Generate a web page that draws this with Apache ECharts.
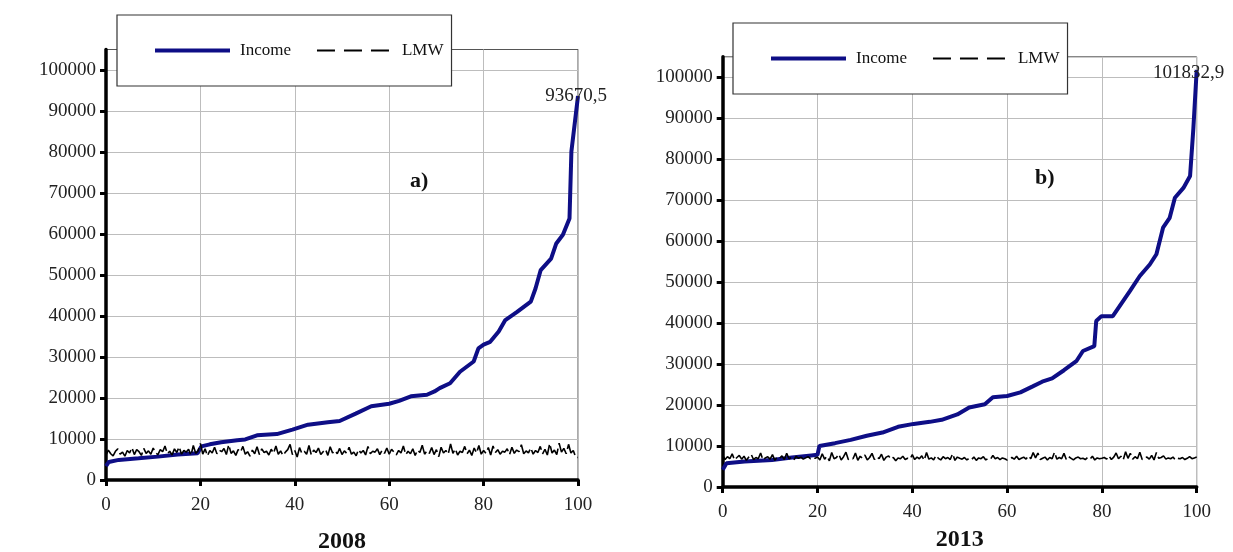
<!DOCTYPE html>
<html>
<head>
<meta charset="utf-8">
<script src="https://cdn.jsdelivr.net/npm/echarts@6/dist/echarts.min.js"></script>
<style>
  html, body { margin: 0; padding: 0; background: #fff; }
  #chart { width: 1233px; height: 552px; }
</style>
</head>
<body>
<div id="chart"></div>
<script>
// LMW is sampled every half percentile
const pctl = Array.from({ length: 201 }, (_, i) => i / 2);
const yTicks = [0, 10000, 20000, 30000, 40000, 50000, 60000, 70000, 80000, 90000, 100000];

// 2008 income (breakpoints)
const inc08X = [0, 0.6, 2.7, 6.9, 11, 15.2, 19.4, 20.2, 22, 24.4, 27.8, 29.5, 32, 36.2, 39.5, 42.8, 47, 49.5, 52.9, 56.2, 60, 62.1, 64.6, 68, 69.6, 70.7, 72.9, 75, 77.9, 78.9, 80, 81.4, 83.2, 84.6, 87.1, 90, 91, 92.1, 94.3, 95.4, 96.8, 98.2, 98.6, 100];
const inc08Y = [3400, 4400, 4900, 5300, 5700, 6200, 6500, 8200, 8700, 9200, 9700, 9900, 10900, 11200, 12300, 13500, 14100, 14400, 16200, 18000, 18600, 19300, 20400, 20800, 21600, 22400, 23600, 26400, 28900, 32100, 33000, 33700, 36200, 39000, 41000, 43500, 46700, 51200, 54000, 57700, 59800, 63800, 80100, 93670.5];

// 2013 income
const inc13X = [0, 0.8, 4.6, 10.4, 14.6, 18.7, 20, 20.4, 23.7, 27, 30.4, 33.7, 37, 40.3, 43.7, 46.2, 49.5, 52, 55.3, 57, 60, 62.8, 65.3, 67.4, 69.5, 72, 74.6, 76, 78.4, 78.8, 79.9, 82.3, 85.9, 88, 90.1, 91.5, 92.9, 94.3, 95.4, 97.2, 98.6, 99.3, 100];
const inc13Y = [4200, 5800, 6200, 6600, 7200, 7700, 7850, 10000, 10700, 11500, 12500, 13300, 14700, 15400, 15900, 16400, 17700, 19400, 20200, 21900, 22200, 23100, 24500, 25700, 26500, 28500, 30700, 33200, 34400, 40500, 41700, 41700, 47800, 51500, 54300, 56800, 63300, 65700, 70600, 73000, 75900, 87600, 101832.9];

const lmw08 = [
  6100, 7300, 6400, 5900, 7000, 7600, 6300, 6800, 5800, 7200, 6600, 7900, 6200, 7400, 6900, 6000, 7700, 6500, 7100, 6300,
  7800, 6600, 6200, 7400, 6900, 8300, 6400, 7000, 6100, 7600, 6700, 8100, 6300, 7200, 6800, 7500, 6000, 8400, 6500, 7100,
  8900, 6300, 7600, 5900, 7200, 6600, 8000, 6400, 7300, 6900, 7700, 6200, 8600, 6500, 7100, 6000, 7400, 6800, 8200, 6300,
  6900, 5800, 7300, 6400, 8100, 6200, 7600, 6700, 7000, 6100, 7500, 6500, 8300, 6300, 7100, 6000, 6800, 7400, 8700, 6200,
  7200, 5600, 7900, 6500, 7000, 6300, 8400, 6100, 7300, 6700, 7800, 6200, 6900, 7500, 6000, 8100, 6600, 7200, 6400, 7700,
  6200, 7100, 6500, 8000, 6300, 6800, 5900, 7400, 6600, 7200, 6100, 8200, 6400, 7000, 6800, 7600, 6200, 7300, 6500, 7800,
  6300, 7500, 6800, 6100, 7200, 6600, 8300, 6200, 7000, 6400, 7600, 6000, 7300, 6700, 8500, 6300, 7100, 6500, 7900, 6200,
  7400, 5700, 8000, 6600, 7200, 6300, 8800, 6500, 7600, 6100, 7000, 6700, 8200, 6400, 7300, 6000, 7800, 6600, 8400, 6300,
  7200, 6500, 7900, 6100, 8300, 6700, 7400, 6300, 7000, 6800, 7600, 6200, 8000, 6500, 7300, 6900, 8600, 6400, 7100, 6600,
  7800, 6300, 7200, 6700, 8200, 6400, 7500, 6100, 8900, 6600, 7300, 6200, 9000, 6800, 7700, 6400, 8700, 6600, 7200, 5600,
  5500
];
const lmw13 = [
  7800, 6700, 7400, 6900, 8100, 6600, 7200, 7700, 6800, 7500, 6500, 7300, 8000, 6700, 7200, 6900, 8300, 6600, 7100, 7400,
  6800, 7900, 6500, 7300, 7000, 7600, 6700, 8200, 6900, 7200, 6600, 7500, 7000, 7300, 6800, 7100, 7400, 6900, 7200, 7000,
  7300, 6600, 8100, 6800, 7500, 6400, 8400, 6900, 7200, 8000, 6600, 7400, 8500, 6700, 7100, 6900, 8300, 6500, 7500, 7000,
  7800, 6600, 7200, 8200, 6700, 7400, 6900, 8000, 6500, 7300, 7600, 6800, 7200, 6400, 7100, 6900, 7500, 6700, 7000, 6800,
  7900, 6700, 7300, 6900, 7600, 6500, 8400, 6800, 7100, 6600, 7700, 7000, 6600, 7400, 6900, 7200, 6700, 8100, 6500, 7300,
  7000, 6800, 7200, 6600, 7000, 6700, 7300, 6500, 7100, 6900, 7400, 6600, 7000, 6800, 7700, 6900, 7200, 6700, 7100, 6900,
  6600, 6900, 7200, 6800, 7500, 6700, 7000, 7300, 6800, 7600, 6900, 8400, 7100, 8300, 6700, 7000, 7300, 6600, 7200, 6900,
  8500, 6800, 7200, 6900, 8200, 6700, 7400, 7000, 6600, 7100, 7300, 6900, 7000, 6700, 7200, 6800, 7500, 6600, 7100, 6900,
  7000, 7200, 6800, 7600, 6700, 7300, 8300, 6900, 7500, 6600, 8600, 7000, 8200, 6800, 7400, 6900, 8500, 6700, 7100, 7300,
  6800, 7700, 6600, 8400, 7000, 7200, 7600, 6800, 7100, 6900, 7300, 6600, 7000, 6900, 7200, 6700, 7000, 7400, 6900, 7100,
  7300
];

const serif = "'Liberation Serif', 'DejaVu Serif', serif";
const incomeColor = "#0e0e86";

function pairs(xs, ys) {
  return ys.map((v, i) => [xs[i], v]);
}

function xAxisFor(idx, year, gap) {
  return {
    type: "value", gridIndex: idx, min: 0, max: 100, interval: 20,
    name: year, nameLocation: "middle", nameGap: gap,
    nameTextStyle: { fontFamily: serif, fontSize: 24, fontWeight: "bold", color: "#111" },
    axisLine: { lineStyle: { color: "#000", width: 3.5 } },
    axisTick: { show: true, length: 6, lineStyle: { color: "#000", width: 3 } },
    axisLabel: { fontFamily: serif, fontSize: 19, color: "#222", margin: 16 },
    splitLine: { show: true, lineStyle: { color: "#bdbdbd", width: 1 } }
  };
}

function yAxisFor(idx) {
  return {
    type: "value", gridIndex: idx, min: 0, max: 105000, interval: 10000,
    axisLine: { show: true, lineStyle: { color: "#000", width: 3.5 } },
    axisTick: { show: true, length: 6, customValues: yTicks, lineStyle: { color: "#000", width: 3 } },
    axisLabel: { fontFamily: serif, fontSize: 19, color: "#222", margin: 10, customValues: yTicks,
      formatter: (v) => String(v) },
    splitLine: { show: true, lineStyle: { color: "#bdbdbd", width: 1 } }
  };
}

function legendAt(left, top) {
  return {
    left: left, top: top,
    orient: "horizontal",
    backgroundColor: "#fff",
    borderColor: "#333",
    borderWidth: 1.2,
    padding: [27, 8, 27, 36],
    itemWidth: 75,
    itemHeight: 14,
    itemGap: 25,
    textStyle: { fontFamily: serif, fontSize: 17, color: "#111", padding: [0, 0, 0, 5] },
    data: [
      { name: "Income", itemStyle: { opacity: 0 }, lineStyle: { color: incomeColor, width: 4 } },
      { name: "LMW", itemStyle: { opacity: 0 }, lineStyle: { color: "#000", width: 2, type: [18, 9] } }
    ],
    selectedMode: false
  };
}

function incomeSeries(idx, xs, ys, labelText, offset) {
  return {
    name: "Income", type: "line", xAxisIndex: idx, yAxisIndex: idx,
    data: pairs(xs, ys), symbol: "none", z: 3,
    lineStyle: { color: incomeColor, width: 4 },
    itemStyle: { color: incomeColor },
    markPoint: {
      symbol: "circle", symbolSize: 1,
      itemStyle: { color: "rgba(0,0,0,0)" },
      label: { show: true, position: "inside", offset: offset, formatter: labelText,
        fontFamily: serif, fontSize: 19, color: "#222" },
      data: [{ coord: [xs[xs.length - 1], ys[ys.length - 1]] }]
    }
  };
}

function lmwSeries(idx, ys) {
  return {
    name: "LMW", type: "line", xAxisIndex: idx, yAxisIndex: idx,
    data: pairs(pctl, ys), symbol: "none", z: 4,
    lineStyle: { color: "#000", width: 1.6, type: [22, 4] },
    itemStyle: { color: "#000" }
  };
}

const chart = echarts.init(document.getElementById("chart"), null, { renderer: "canvas" });

chart.setOption({
  backgroundColor: "#fff",
  animation: false,
  grid: [
    { left: 106, width: 472, top: 49.5, bottom: 72, outerBoundsMode: "none", containLabel: false,
      show: true, borderColor: "#555", borderWidth: 1, backgroundColor: "transparent" },
    { left: 722.7, width: 474, top: 56.8, bottom: 65, outerBoundsMode: "none", containLabel: false,
      show: true, borderColor: "#555", borderWidth: 1, backgroundColor: "transparent" }
  ],
  xAxis: [xAxisFor(0, "2008", 50), xAxisFor(1, "2013", 41)],
  yAxis: [yAxisFor(0), yAxisFor(1)],
  legend: [legendAt(117, 15), legendAt(733, 23)],
  graphic: [
    { type: "text", left: 410, top: 170, style: { text: "a)", font: "bold 22px " + serif, fill: "#111" } },
    { type: "text", left: 1035, top: 167, style: { text: "b)", font: "bold 22px " + serif, fill: "#111" } }
  ],
  series: [
    incomeSeries(0, inc08X, inc08Y, "93670,5", [-2, 0]),
    lmwSeries(0, lmw08),
    incomeSeries(1, inc13X, inc13Y, "101832,9", [-8, 3]),
    lmwSeries(1, lmw13)
  ]
});
</script>
</body>
</html>
